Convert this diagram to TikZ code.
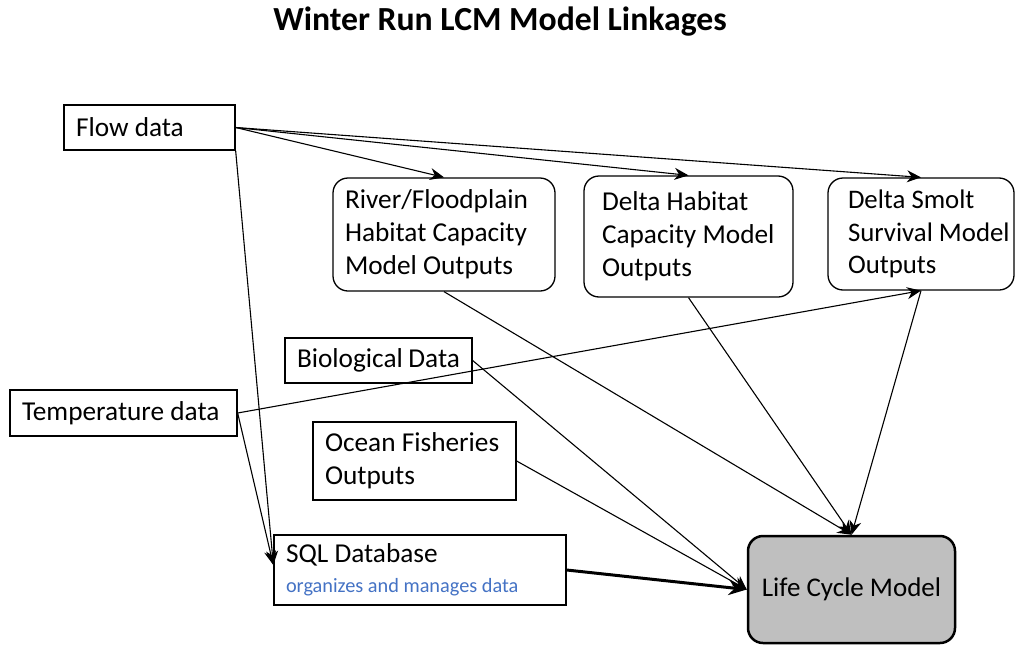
\documentclass[tikz,border=0pt]{standalone}
\usepackage{fontspec}
\setmainfont{Carlito}
\usetikzlibrary{arrows.meta,calc}
\definecolor{lcmgray}{HTML}{BFBFBF}
\definecolor{sqlblue}{HTML}{4472C4}
\begin{document}
\begin{tikzpicture}[x=1pt,y=-1pt,
  box/.style={draw, line width=1.3pt, inner xsep=12pt, inner ysep=0pt, align=flush left,
    font=\fontsize{27.3}{33}\selectfont, anchor=center},
  rbox/.style={box, rounded corners=15pt},
  arr/.style={-{Stealth[length=14pt,width=12pt,inset=4.5pt]}, line width=1.1pt},
  thickarr/.style={-{Stealth[length=18pt,width=15pt,inset=6pt]}, line width=3pt}]
\useasboundingbox (0,0) rectangle (1016,645);
\node[font=\fontsize{33.7}{40}\selectfont\bfseries] (title) at (500,22) {Winter Run LCM Model Linkages};

\node[box, text width=147pt, minimum height=45pt] (flow) at (149.5,127.5) {Flow data};
\node[rbox, text width=198pt, minimum height=113pt] (river) at (444,234.5) {River/Floodplain\\Habitat Capacity\\Model Outputs};
\node[rbox, inner xsep=4pt, text width=201pt, minimum height=121pt] (dhab) at (688.5,236.5) {\leftskip=14pt Delta Habitat\\Capacity Model\\Outputs\\[-5pt]};
\node[rbox, inner xsep=4pt, text width=178pt, minimum height=112pt, font=\fontsize{26.8}{32.5}\selectfont] (smolt) at (921,234) {\hspace*{16pt}\mbox{Delta Smolt}\\\hspace*{16pt}\mbox{Survival Model}\\\hspace*{16pt}\mbox{Outputs}};
\node[box, text width=163pt, minimum height=45pt] (bio) at (378.5,360.5) {Biological Data};
\node[box, text width=203pt, minimum height=46pt] (temp) at (123.5,413) {Temperature data};
\node[box, text width=179pt, minimum height=78pt] (ocean) at (414.5,461) {Ocean Fisheries\\Outputs};
\node[box, text width=268pt, minimum height=70pt] (sql) at (420,570) {SQL Database\\[-3pt]\textcolor{sqlblue}{\fontsize{20.3}{22}\selectfont organizes and manages data}};
\node[rbox, line width=2.5pt, fill=lcmgray, align=flush center, text width=183pt, minimum height=107pt, font=\fontsize{27}{33}\selectfont] (lcm) at (851.5,589.5) {Life Cycle Model};

\coordinate (sqlin) at ($(sql.north west)!0.43!(sql.south west)$);

\draw[arr] (flow.east) -- (river.north);
\draw[arr] (flow.east) -- (dhab.north);
\draw[arr] (flow.east) -- (smolt.north);
\draw[arr] (flow.south east) -- (sqlin);
\draw[arr] (temp.east) -- (sqlin);
\draw[arr] (temp.east) -- (smolt.south);
\draw[arr] (river.south) -- (lcm.north);
\draw[arr] (dhab.south) -- (lcm.north);
\draw[arr] (smolt.south) -- (lcm.north);
\draw[arr] (bio.east) -- (lcm.west);
\draw[arr] (ocean.east) -- (lcm.west);
\draw[thickarr] (sql.east) -- (lcm.west);
\end{tikzpicture}
\end{document}
